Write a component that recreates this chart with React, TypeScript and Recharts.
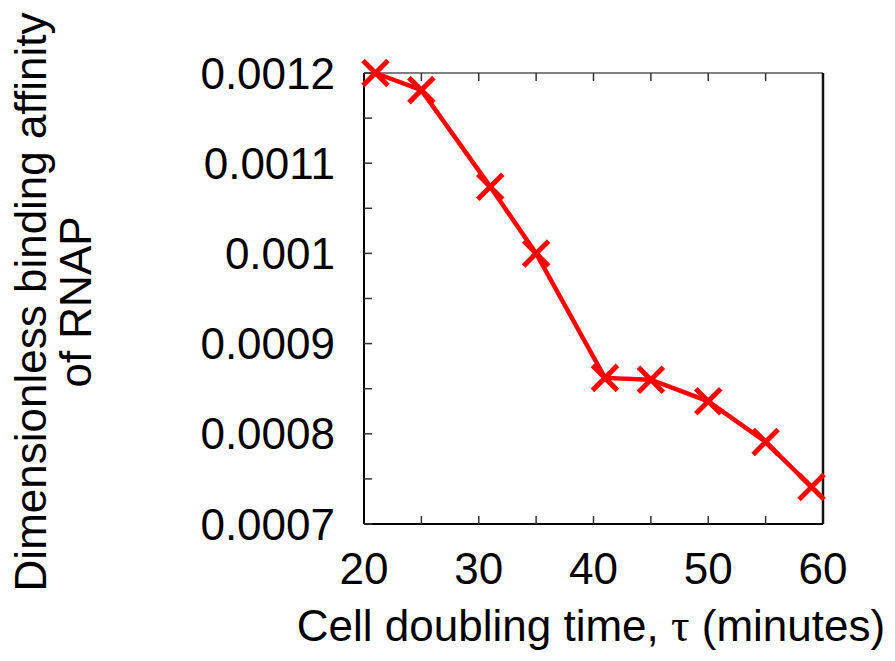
import { LineChart, Line, XAxis, YAxis, Label } from 'recharts';

const tau = [21, 25, 31, 35, 41, 45, 50, 55, 59];
const affinity = [0.0012, 0.001181, 0.001074, 0.001, 0.000862, 0.00086, 0.000836, 0.000791, 0.000741];

const xTicks = [20, 25, 30, 35, 40, 45, 50, 55, 60];
const yTicks = [0.0007, 0.00075, 0.0008, 0.00085, 0.0009, 0.00095, 0.001, 0.00105, 0.0011, 0.00115, 0.0012];

const data = tau.map((t, i) => ({ tau: t, affinity: affinity[i] }));

const FONT = '"Liberation Sans", Arial, sans-serif';

function CrossDot(props: any) {
    const { cx, cy } = props;
    if (cx == null || cy == null) return null;
    const s = 12.5;
    return (
        <path
            key={`dot-${cx}-${cy}`}
            d={`M${cx - s},${cy - s}L${cx + s},${cy + s}M${cx - s},${cy + s}L${cx + s},${cy - s}`}
            stroke="#ff0000"
            strokeWidth={5}
            fill="none"
        />
    );
}

function XTitle() {
    return (
        <text x={591} y={641} textAnchor="middle" fontSize={44} fontFamily={FONT} fill="#000">
            <tspan>Cell doubling time, </tspan>
            <tspan style={{ fontFamily: '"Liberation Serif", "DejaVu Serif", serif' }} fontSize={46}>τ</tspan>
            <tspan> (minutes)</tspan>
        </text>
    );
}

function YTitle() {
    return (
        <text transform="translate(0,302) rotate(-90)" textAnchor="middle" fontSize={44} fontFamily={FONT} fill="#000">
            <tspan x={0} y={46}>Dimensionless binding affinity</tspan>
            <tspan x={0} y={91}>of RNAP</tspan>
        </text>
    );
}

const fmtX = (v: number) => (v % 10 === 0 ? String(v) : '');
const fmtY = (v: number) => (Math.round(v * 1e5) % 10 === 0 ? String(parseFloat(v.toFixed(4))) : '');

export default function App() {
    return (
        <div style={{ position: 'absolute', left: 0, top: 0, width: 895, height: 661, background: '#fff' }}>
            <LineChart
                width={895}
                height={661}
                data={data}
                margin={{ top: 72, right: 71, bottom: 77, left: 214 }}
                style={{ fontFamily: FONT }}
            >
                <XAxis
                    dataKey="tau"
                    type="number"
                    domain={[20, 60]}
                    ticks={xTicks}
                    interval={0}
                    tickFormatter={fmtX}
                    height={60}
                    tickSize={-8}
                    tickMargin={37}
                    stroke="#000"
                    axisLine={{ stroke: '#000', strokeWidth: 2 }}
                    tickLine={{ stroke: '#333', strokeWidth: 1.5 }}
                    tick={{ fontSize: 44, fill: '#000' }}
                >
                    <Label content={<XTitle />} />
                </XAxis>
                <XAxis
                    xAxisId="top"
                    dataKey="tau"
                    orientation="top"
                    type="number"
                    domain={[20, 60]}
                    ticks={xTicks}
                    interval={0}
                    tickFormatter={() => ''}
                    height={1}
                    tickSize={-8}
                    stroke="#555"
                    axisLine={{ stroke: '#555', strokeWidth: 1.5 }}
                    tickLine={{ stroke: '#333', strokeWidth: 1.5 }}
                />
                <YAxis
                    type="number"
                    domain={[0.0007, 0.0012]}
                    ticks={yTicks}
                    interval={0}
                    tickFormatter={fmtY}
                    width={150}
                    tickSize={-8}
                    tickMargin={37}
                    stroke="#000"
                    axisLine={{ stroke: '#000', strokeWidth: 2 }}
                    tickLine={{ stroke: '#333', strokeWidth: 1.5 }}
                    tick={{ fontSize: 44, fill: '#000' }}
                >
                    <Label content={<YTitle />} />
                </YAxis>
                <YAxis
                    yAxisId="right"
                    orientation="right"
                    type="number"
                    domain={[0.0007, 0.0012]}
                    width={1}
                    tick={false}
                    tickLine={false}
                    stroke="#111"
                    axisLine={{ stroke: '#111', strokeWidth: 2.5 }}
                />
                {/* invisible copy so the frame axes (top / right) get rendered */}
                <Line
                    xAxisId="top"
                    yAxisId="right"
                    dataKey="affinity"
                    stroke="none"
                    dot={false}
                    activeDot={false}
                    legendType="none"
                    isAnimationActive={false}
                />
                <Line
                    dataKey="affinity"
                    stroke="#ff0000"
                    strokeWidth={4.5}
                    dot={<CrossDot />}
                    activeDot={false}
                    isAnimationActive={false}
                />
            </LineChart>
        </div>
    );
}
